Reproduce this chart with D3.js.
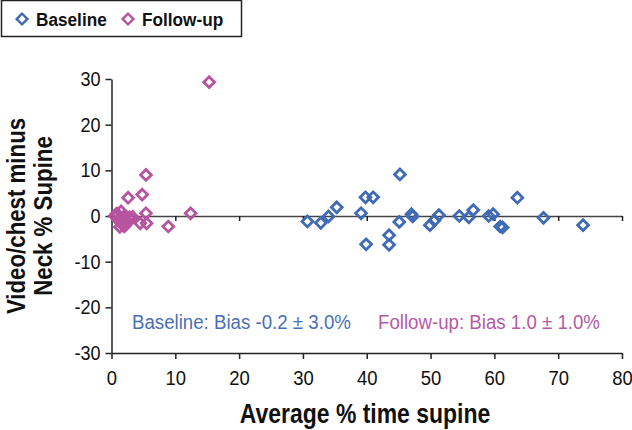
<!DOCTYPE html>
<html><head><meta charset="utf-8">
<script src="https://cdn.jsdelivr.net/npm/d3@7"></script>
<style>body{margin:0;background:#fff;}svg{display:block;font-family:"Liberation Sans",Arial,sans-serif;}</style>
</head><body><svg id="c" width="632" height="430"></svg>
<script>
const xTicks = [0,10,20,30,40,50,60,70,80];
const yTicks = [-30,-20,-10,0,10,20,30];
const baselineX = [30.7,32.8,34.0,35.3,39.1,39.8,41.0,39.9,43.5,43.5,45.1,45.2,47.0,47.2,49.9,50.6,51.3,54.5,56.0,56.7,59.1,59.8,60.9,61.3,63.6,67.7,73.9];
const baselineY = [-1.2,-1.5,-0.1,1.9,0.6,4.1,4.1,-6.2,-4.2,-6.3,-1.3,9.1,0.4,-0.1,-2.0,-1.0,0.2,0.0,-0.3,1.3,0.0,0.4,-2.3,-2.5,4.0,-0.4,-2.0];
const followX = [15.3,5.4,2.6,4.8,5.4,4.5,5.5,8.9,12.4,0.5,1.0,1.2,1.5,1.5,1.8,2.0,2.2,2.5,2.8,3.0,1.0,0.8,2.0,3.3,1.3];
const followY = [29.3,9.0,4.0,4.7,0.6,-1.6,-1.6,-2.3,0.6,0.0,0.3,-0.5,1.0,-1.5,-2.0,0.0,-0.8,-1.2,-0.3,-0.8,-0.8,0.5,-2.3,-0.2,-2.4];
const seriesNames = ["Baseline","Follow-up"];
const colors = ["#3f6bb6","#b7549f"];
const annotations = ["Baseline: Bias -0.2 \u00b1 3.0%","Follow-up: Bias 1.0 \u00b1 1.0%"];

const svg = d3.select("#c");
const x = d3.scaleLinear().domain([0,80]).range([111.5,622]);
const y = d3.scaleLinear().domain([-30,30]).range([353,79]);
const axisColor = "#222";

function ctext(parent, px, py, sx, rot){
  return parent.append("text")
    .attr("transform",`translate(${px},${py})${rot?` rotate(${rot})`:""} scale(${sx},1)`);
}

const gx = svg.append("g").attr("transform",`translate(0,${y(-30)})`)
  .call(d3.axisBottom(x).tickValues(xTicks).tickSize(6).tickSizeOuter(0).tickPadding(11).tickFormat(d=>String(d)));
gx.selectAll("text").attr("font-size",21).attr("fill","#111").attr("font-family",null)
  .attr("transform","scale(0.88,1)");
gx.select(".domain").attr("stroke",axisColor).attr("stroke-width",1.5);
gx.selectAll(".tick line").attr("stroke",axisColor).attr("stroke-width",1.5);

const gz = svg.append("g").attr("transform",`translate(0,${y(0)})`)
  .call(d3.axisBottom(x).tickValues(xTicks.slice(1)).tickSize(5).tickSizeOuter(0).tickFormat(""));
gz.select(".domain").attr("stroke","#444").attr("stroke-width",1.5);
gz.selectAll(".tick line").attr("stroke","#222").attr("stroke-width",1.5);

const gy = svg.append("g").attr("transform",`translate(${x(0)},0)`)
  .call(d3.axisLeft(y).tickValues(yTicks).tickSize(6).tickSizeOuter(0).tickPadding(5).tickFormat(d=>String(d)));
gy.selectAll("text").attr("font-size",20).attr("fill","#111").attr("font-family",null)
  .attr("x",0).attr("transform","translate(-11,0) scale(0.9,1)");
gy.select(".domain").attr("stroke",axisColor).attr("stroke-width",1.5);
gy.selectAll(".tick line").attr("stroke",axisColor).attr("stroke-width",1.5);

ctext(svg,365,423,0.82).attr("text-anchor","middle")
  .attr("font-size",28).attr("font-weight","bold").attr("fill","#111").text("Average % time supine");
ctext(svg,24.5,216,0.84,-90).attr("text-anchor","middle")
  .attr("font-size",26.5).attr("font-weight","bold").attr("fill","#111").text("Video/chest minus");
ctext(svg,52,216,0.84,-90).attr("text-anchor","middle")
  .attr("font-size",26.5).attr("font-weight","bold").attr("fill","#111").text("Neck % Supine");

const diamond = d3.symbol().type(d3.symbolSquare).size(58)();
function drawSeries(xs, ys, color){
  svg.append("g").selectAll("path").data(xs.map((v,i)=>[v,ys[i]])).join("path")
    .attr("d",diamond)
    .attr("transform",d=>`translate(${x(d[0])},${y(d[1])}) rotate(45)`)
    .attr("fill","none").attr("stroke",color).attr("stroke-width",2.8);
}
drawSeries(baselineX, baselineY, colors[0]);
drawSeries(followX, followY, colors[1]);

ctext(svg,132,329,0.89).attr("font-size",21).attr("fill","#4a6fb5").text(annotations[0]);
ctext(svg,378,329,0.89).attr("font-size",21).attr("fill","#b45aa5").text(annotations[1]);

svg.append("rect").attr("x",1.5).attr("y",0.5).attr("width",240).attr("height",36)
  .attr("fill","#fff").attr("stroke","#222").attr("stroke-width",1.5);
const legX = [22,128];
seriesNames.forEach((n,i)=>{
  svg.append("path").attr("d",diamond).attr("transform",`translate(${legX[i]},${19}) rotate(45)`)
    .attr("fill","none").attr("stroke",colors[i]).attr("stroke-width",2.4);
  ctext(svg,legX[i]+14,26,0.93).attr("font-size",18.5).attr("font-weight","bold")
    .attr("fill","#111").text(n);
});
</script></body></html>
